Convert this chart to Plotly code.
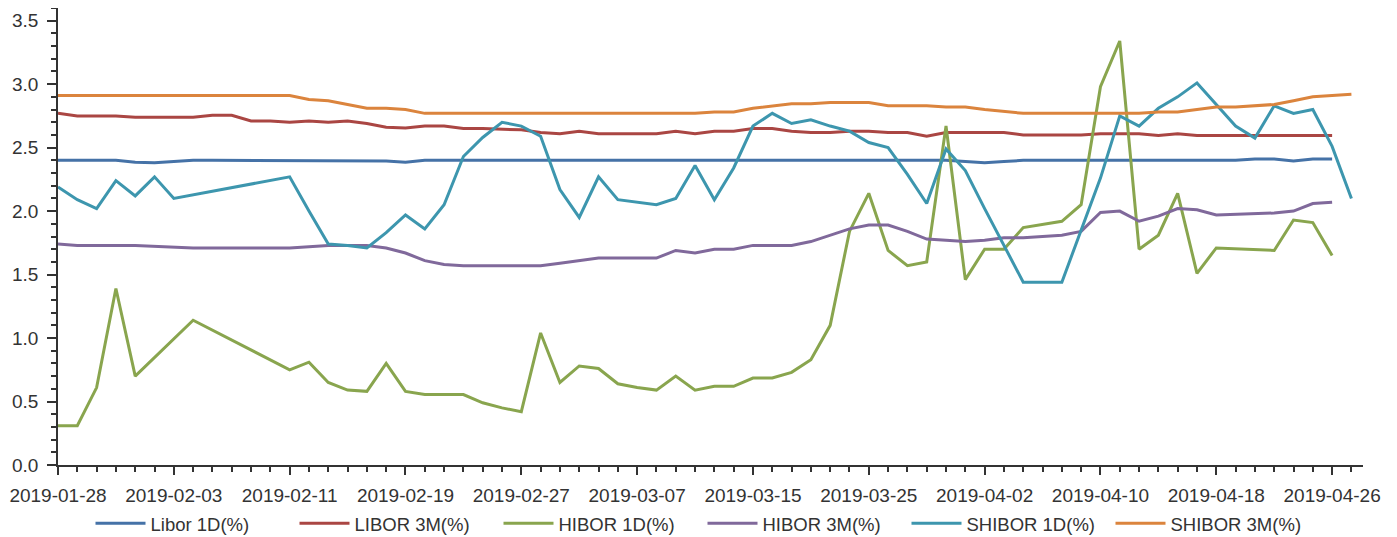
import plotly.graph_objects as go

dates = [
    "2019-01-28", "2019-01-29", "2019-01-30", "2019-01-31", "2019-02-01", "2019-02-02",
    "2019-02-03", "2019-02-04", "2019-02-05", "2019-02-06", "2019-02-07", "2019-02-08",
    "2019-02-11", "2019-02-12", "2019-02-13", "2019-02-14", "2019-02-15", "2019-02-18",
    "2019-02-19", "2019-02-20", "2019-02-21", "2019-02-22", "2019-02-25", "2019-02-26",
    "2019-02-27", "2019-02-28", "2019-03-01", "2019-03-04", "2019-03-05", "2019-03-06",
    "2019-03-07", "2019-03-08", "2019-03-11", "2019-03-12", "2019-03-13", "2019-03-14",
    "2019-03-15", "2019-03-18", "2019-03-19", "2019-03-20", "2019-03-21", "2019-03-22",
    "2019-03-25", "2019-03-26", "2019-03-27", "2019-03-28", "2019-03-29", "2019-04-01",
    "2019-04-02", "2019-04-03", "2019-04-04", "2019-04-05", "2019-04-08", "2019-04-09",
    "2019-04-10", "2019-04-11", "2019-04-12", "2019-04-15", "2019-04-16", "2019-04-17",
    "2019-04-18", "2019-04-19", "2019-04-22", "2019-04-23", "2019-04-24", "2019-04-25",
    "2019-04-26", "2019-04-28",
]

N = None

libor_1d = [
    2.40, 2.40, 2.40, 2.40, 2.385, 2.38, 2.39, 2.40, 2.40, 2.40, 2.40, 2.40,
    2.40, 2.40, 2.40, 2.40, 2.40, 2.395, 2.385, 2.40, 2.40, 2.40, 2.40, 2.40,
    2.40, 2.40, 2.40, 2.40, 2.40, 2.40, 2.40, 2.40, 2.40, 2.40, 2.40, 2.40,
    2.40, 2.40, 2.40, 2.40, 2.40, 2.40, 2.40, 2.40, 2.40, 2.40, 2.40, 2.39,
    2.38, 2.39, 2.40, 2.40, 2.40, 2.40, 2.40, 2.40, 2.40, 2.40, 2.40, 2.40,
    2.40, 2.40, 2.41, 2.41, 2.395, 2.41, 2.41, N,
]

libor_3m = [
    2.77, 2.75, 2.75, 2.75, 2.74, 2.74, 2.74, 2.74, 2.755, 2.755, 2.71, 2.71,
    2.70, 2.71, 2.70, 2.71, 2.69, 2.66, 2.655, 2.67, 2.67, 2.65, 2.65, 2.645,
    2.64, 2.62, 2.61, 2.63, 2.61, 2.61, 2.61, 2.61, 2.63, 2.61, 2.63, 2.63,
    2.65, 2.65, 2.63, 2.62, 2.62, 2.63, 2.63, 2.62, 2.62, 2.59, 2.62, 2.62,
    2.62, 2.62, 2.60, 2.60, 2.60, 2.60, 2.61, 2.61, 2.61, 2.595, 2.61, 2.595,
    2.595, 2.595, 2.595, 2.595, 2.595, 2.595, 2.595, N,
]

hibor_1d = [
    0.31, 0.31, 0.61, 1.39, 0.70, N, N, 1.14, N, N, N, N,
    0.75, 0.81, 0.65, 0.59, 0.58, 0.80, 0.58, 0.555, 0.555, 0.555, 0.49, 0.45,
    0.42, 1.04, 0.65, 0.78, 0.76, 0.64, 0.61, 0.59, 0.70, 0.59, 0.62, 0.62,
    0.685, 0.685, 0.73, 0.83, 1.10, 1.84, 2.14, 1.69, 1.57, 1.60, 2.67, 1.46,
    1.70, 1.70, 1.87, N, 1.92, 2.05, 2.98, 3.34, 1.70, 1.81, 2.14, 1.51,
    1.71, N, N, 1.69, 1.93, 1.91, 1.65, N,
]

hibor_3m = [
    1.74, 1.73, 1.73, 1.73, 1.73, N, N, 1.71, N, N, N, N,
    1.71, 1.72, 1.73, 1.73, 1.73, 1.71, 1.67, 1.61, 1.58, 1.57, 1.57, 1.57,
    1.57, 1.57, 1.59, 1.61, 1.63, 1.63, 1.63, 1.63, 1.69, 1.67, 1.70, 1.70,
    1.73, 1.73, 1.73, 1.76, 1.81, 1.86, 1.89, 1.89, 1.84, 1.78, 1.77, 1.76,
    1.77, 1.79, 1.79, N, 1.81, 1.84, 1.99, 2.00, 1.92, 1.96, 2.02, 2.01,
    1.97, N, N, 1.985, 2.00, 2.06, 2.07, N,
]

shibor_1d = [
    2.19, 2.09, 2.02, 2.24, 2.12, 2.27, 2.10, N, N, N, N, N,
    2.27, 2.00, 1.74, 1.73, 1.71, 1.83, 1.97, 1.86, 2.05, 2.43, 2.58, 2.70,
    2.67, 2.59, 2.17, 1.95, 2.27, 2.09, 2.07, 2.05, 2.10, 2.36, 2.09, 2.34,
    2.67, 2.77, 2.69, 2.72, 2.67, 2.63, 2.54, 2.50, 2.29, 2.06, 2.49, 2.32,
    2.02, 1.73, 1.44, N, 1.44, 1.85, 2.26, 2.75, 2.67, 2.81, 2.90, 3.01,
    2.84, 2.67, 2.575, 2.83, 2.77, 2.80, 2.51, 2.10,
]

shibor_3m = [
    2.91, 2.91, 2.91, 2.91, 2.91, 2.91, 2.91, N, N, N, N, N,
    2.91, 2.88, 2.87, 2.84, 2.81, 2.81, 2.80, 2.77, 2.77, 2.77, 2.77, 2.77,
    2.77, 2.77, 2.77, 2.77, 2.77, 2.77, 2.77, 2.77, 2.77, 2.77, 2.78, 2.78,
    2.81, 2.83, 2.845, 2.845, 2.855, 2.855, 2.855, 2.83, 2.83, 2.83, 2.82, 2.82,
    2.80, 2.785, 2.77, N, 2.77, 2.77, 2.77, 2.77, 2.77, 2.78, 2.78, 2.80,
    2.82, 2.82, 2.83, 2.84, 2.87, 2.90, 2.91, 2.92,
]

names = ["Libor 1D(%)", "LIBOR 3M(%)", "HIBOR 1D(%)", "HIBOR 3M(%)", "SHIBOR 1D(%)", "SHIBOR 3M(%)"]
values = [libor_1d, libor_3m, hibor_1d, hibor_3m, shibor_1d, shibor_3m]
colors = ["#4572A7", "#AA4643", "#89A54E", "#80699B", "#3D96AE", "#DB843D"]

x_idx = list(range(len(dates)))
label_step = 6

fig = go.Figure()
for name, vals, color in zip(names, values, colors):
    fig.add_trace(go.Scatter(
        x=x_idx, y=vals, name=name, mode="lines",
        line=dict(color=color, width=3), connectgaps=True,
    ))

# the html page adds an 8px body margin, so the figure is sized/offset to compensate
fig.update_layout(
    width=1389, height=529,
    margin=dict(l=50, r=34, t=0, b=72, autoexpand=False),
    paper_bgcolor="white", plot_bgcolor="white",
    font=dict(family="Liberation Sans, Arial, sans-serif", size=19, color="#333333"),
    showlegend=True,
    legend=dict(
        orientation="h", xref="container", yref="container",
        x=0.5, xanchor="center", y=0.025, yanchor="middle",
        entrywidth=139, entrywidthmode="pixels",
        font=dict(size=18.5, color="#333333"),
        itemwidth=50,
    ),
)

fig.update_xaxes(
    range=[0, 67.6], automargin=False,
    tickmode="array", tickvals=x_idx[::label_step], ticktext=dates[::label_step],
    showline=True, linecolor="#333333", linewidth=1.5,
    ticks="outside", ticklen=8, tickcolor="#333333", tickwidth=1.5,
    ticklabelstandoff=4,
    showgrid=False, zeroline=False,
    minor=dict(tick0=0, dtick=1, ticks="outside", ticklen=5, tickcolor="#333333", tickwidth=1.5, showgrid=False),
)

fig.update_yaxes(
    range=[0, 3.6], tick0=0, dtick=0.5, tickformat=".1f", automargin=False,
    showline=True, linecolor="#333333", linewidth=1.5,
    ticks="outside", ticklen=9, tickcolor="#333333", tickwidth=1.5,
    ticklabelstandoff=5,
    showgrid=False, zeroline=False,
    minor=dict(tick0=0, dtick=0.1, ticks="outside", ticklen=5, tickcolor="#333333", tickwidth=1.5, showgrid=False),
)

fig.write_html("out.html")
